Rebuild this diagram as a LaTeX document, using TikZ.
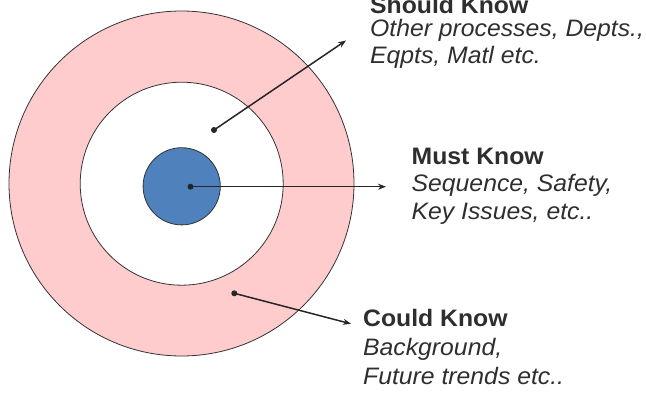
\documentclass[tikz,border=0pt]{standalone}
\usepackage{fontspec}
\setmainfont{Liberation Sans}[FakeStretch=1.04]
\usetikzlibrary{arrows.meta}
\definecolor{ringpink}{HTML}{FFCCCD}
\definecolor{coreblue}{HTML}{4F81BD}
\definecolor{edgegray}{HTML}{333333}
\definecolor{txtgray}{HTML}{2E2E2E}
\tikzset{
  ring/.style={draw=edgegray, line width=0.8pt},
  dotnode/.style={circle, fill=black!85, inner sep=0pt, minimum size=6pt},
  pointer/.style={draw=black!85, line width=1.5pt, -{Stealth[length=8pt, width=6pt]}},
  headline/.style={anchor=base west, inner sep=0pt, font=\fontsize{23.8}{28}\selectfont\bfseries, text=txtgray},
  bodyline/.style={anchor=base west, inner sep=0pt, font=\fontsize{23.8}{28}\selectfont\itshape, text=txtgray}
}
\begin{document}
\begin{tikzpicture}[x=1pt, y=-1pt]
\useasboundingbox (0,0) rectangle (646,394);
% rings
\filldraw[ring, fill=ringpink] (181.5,183.5) circle[radius=172.5];
\filldraw[ring, fill=white] (181.7,183.7) circle[radius=101.5];
\filldraw[ring, fill=coreblue] (181.7,186.3) circle[radius=38.6];
% dots
\node[dotnode] (dshould) at (214,130) {};
\node[dotnode] (dmust) at (190.5,186.7) {};
\node[dotnode] (dcould) at (234.3,293.3) {};
% arrow ends
\coordinate (tshould) at (346,40.5);
\coordinate (tmust) at (386,186.7);
\coordinate (tcould) at (351,323.8);
\draw[pointer] (dshould.center) -- (tshould);
\draw[pointer] (dmust.center) -- (tmust);
\draw[pointer] (dcould.center) -- (tcould);
% labels
\node[headline] (sk1) at (370,13.5) {Should Know};
\node[bodyline] (sk2) at (370,36.5) {Other processes, Depts.,};
\node[bodyline] (sk3) at (370,63.5) {Eqpts, Matl etc.};
\node[headline] (mk1) at (411.5,164.3) {Must Know};
\node[bodyline] (mk2) at (411.5,191.7) {Sequence, Safety,};
\node[bodyline] (mk3) at (411.5,219) {Key Issues, etc..};
\node[headline] (ck1) at (363,326.7) {Could Know};
\node[bodyline] (ck2) at (363,355) {Background,};
\node[bodyline] (ck3) at (363,384) {Future trends etc..};
\end{tikzpicture}
\end{document}
